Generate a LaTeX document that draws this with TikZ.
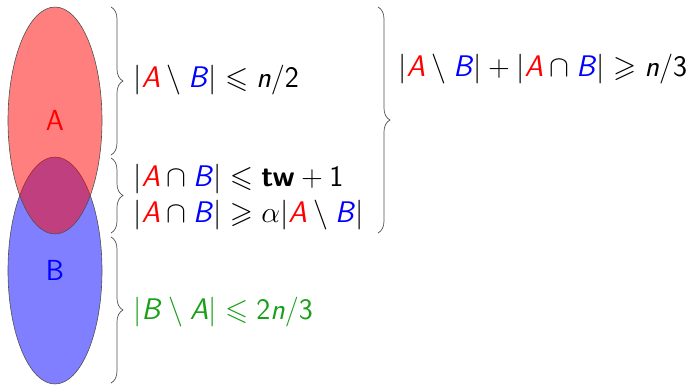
\documentclass[tikz,border=0pt]{standalone}
\usepackage{fontspec}
\usepackage{amssymb}
\usetikzlibrary{shapes.geometric,decorations.pathreplacing}
\definecolor{mygreen}{RGB}{25,160,25}
\definecolor{edgegray}{RGB}{80,80,80}
\newcommand{\RA}{\textcolor{red}{\textsf{\textit{A}}}}
\newcommand{\BB}{\textcolor{blue}{\textsf{\textit{B}}}}
\newcommand{\GA}{\textsf{\textit{A}}}
\newcommand{\GB}{\textsf{\textit{B}}}
\newcommand{\nb}{\textsf{\textit{n}}}
\newcommand{\sfd}[1]{\textsf{#1}}
% one reference pixel = 0.835pt, so that the formulas are set at 24.88pt
\tikzset{
  setell/.style={ellipse, draw=edgegray, line width=0.5pt, fill opacity=0.5, text opacity=1,
    minimum width=78.5pt, minimum height=189.5pt, inner sep=0pt, font=\sffamily\fontsize{24.2}{29}\selectfont},
  mybrace/.style={decorate, decoration={brace, amplitude=10pt}, draw=edgegray, line width=0.58pt},
  formula/.style={anchor=base west, inner sep=0pt, font=\sffamily\fontsize{24.88}{30}\selectfont}
}
\begin{document}
\begin{tikzpicture}[x=0.835pt,y=-0.835pt]
\useasboundingbox (0,0) rectangle (695,385);
\node[setell, fill=blue, text=blue] (B) at (55,270.5) {B};
\node[setell, fill=red, text=red] (A) at (55,120.5) {A};
% brace endpoints
\coordinate (b1t) at (111,7);
\coordinate (b1b) at (111,155);
\coordinate (b2t) at (111,158);
\coordinate (b2b) at (111,233);
\coordinate (b3t) at (111,237);
\coordinate (b3b) at (111,383);
\coordinate (b4t) at (378,7);
\coordinate (b4b) at (378,233);
\draw[mybrace] (b1t) -- (b1b);
\draw[mybrace] (b2t) -- (b2b);
\draw[mybrace] (b3t) -- (b3b);
\draw[mybrace] (b4t) -- (b4b);
\node[formula] (f1) at (133,87.5) {$|\RA\setminus\BB|\leqslant\nb\sfd{/2}$};
\node[formula] (f2) at (133,186.5) {$|\RA\cap\BB|\leqslant\textsf{\textbf{tw}}+\sfd{1}$};
\node[formula] (f3) at (133,222.5) {$|\RA\cap\BB|\geqslant\alpha|\RA\setminus\BB|$};
\node[formula] (f4) at (398,76) {$|\RA\setminus\BB|+|\RA\cap\BB|\geqslant\nb\sfd{/3}$};
\node[formula, text=mygreen] (f5) at (133,319) {$|\GB\setminus\GA|\leqslant\sfd{2\textit{n}/3}$};
\end{tikzpicture}
\end{document}
